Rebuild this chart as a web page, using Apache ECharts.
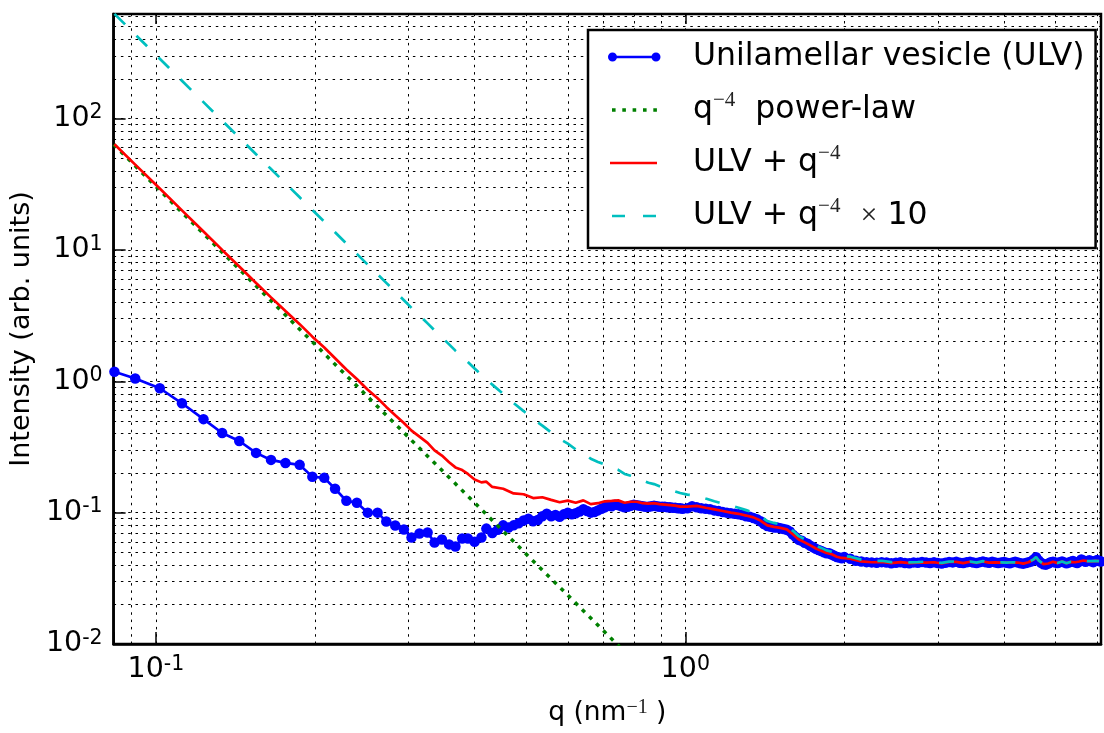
<!DOCTYPE html>
<html><head><meta charset="utf-8">
<script src="https://cdn.jsdelivr.net/npm/echarts@6/dist/echarts.min.js"></script>
<style>html,body{margin:0;padding:0;background:#fff}#c{width:1104px;height:733px}</style>
</head><body><div id="c"></div>
<script>
// ---- data: [q (nm^-1), intensity] ----
const ulvData = [
[0.0835,1.18],[0.0914,1.05],[0.1017,0.885],[0.112,0.68],[0.123,0.515],[0.1334,0.404],[0.1437,0.351],[0.1546,0.285],[0.165,0.252],[0.1757,0.239],
[0.1869,0.231],[0.1975,0.1875],[0.208,0.184],[0.218,0.152],[0.229,0.123],[0.2397,0.119],[0.2513,0.100],[0.2623,0.100],[0.2724,0.0855],[0.2832,0.0798],
[0.2941,0.0743],[0.304,0.0646],[0.3147,0.0693],[0.326,0.0705],[0.336,0.0593],[0.347,0.0624],[0.358,0.0573],[0.368,0.0553],[0.379,0.0635],[0.3885,0.0635],
[0.400,0.060],[0.412,0.0646],[0.421,0.0756],[0.432,0.070],
[0.4425,0.074],[0.453,0.080],[0.4635,0.077],[0.474,0.080],[0.4845,0.083],[0.495,0.087],[0.5055,0.090],[0.516,0.086],[0.5265,0.088],[0.537,0.094],
[0.5475,0.098],[0.558,0.094],[0.5685,0.096],[0.579,0.093],[0.5895,0.097],[0.600,0.100],[0.6105,0.097],[0.621,0.099],[0.6315,0.102],[0.642,0.106],
[0.6525,0.103],[0.663,0.100],[0.6735,0.101],[0.684,0.104],[0.6945,0.107],[0.705,0.110],[0.7155,0.113],[0.726,0.112],[0.7365,0.115],[0.747,0.114],
[0.7575,0.112],[0.768,0.110],[0.7785,0.111],[0.789,0.113],[0.7995,0.115],[0.810,0.114],[0.8205,0.113],[0.831,0.112],[0.8415,0.111],[0.852,0.111],
[0.8625,0.112],[0.873,0.113],[0.8835,0.112],[0.894,0.111],[0.9045,0.111],[0.915,0.111],[0.9255,0.110],[0.936,0.110],[0.9465,0.109],[0.957,0.109],
[0.9675,0.108],[0.978,0.108],[0.9885,0.107],
[1.009,0.108],[1.030,0.112],[1.051,0.110],[1.072,0.108],[1.093,0.107],[1.114,0.106],[1.135,0.104],[1.156,0.103],[1.177,0.101],[1.198,0.100],
[1.219,0.099],[1.240,0.098],[1.261,0.097],[1.282,0.096],[1.303,0.094],[1.324,0.093],[1.345,0.091],[1.366,0.089],[1.387,0.086],[1.408,0.082],
[1.429,0.079],[1.450,0.078],[1.471,0.077],[1.492,0.077],[1.513,0.076],[1.534,0.075],[1.555,0.074],[1.576,0.072],[1.597,0.068],[1.618,0.065],
[1.639,0.062],[1.660,0.061],[1.681,0.059],[1.702,0.058],[1.723,0.056],[1.744,0.0545],[1.765,0.053],[1.786,0.052],[1.807,0.051],[1.828,0.050],
[1.849,0.049],[1.870,0.049],[1.891,0.048],[1.912,0.047],[1.933,0.046],[1.954,0.0455],[1.975,0.045],[1.996,0.046],
[2.05,0.0445],[2.10,0.0430],[2.15,0.0425],[2.20,0.0420],[2.25,0.0418],[2.30,0.0415],[2.35,0.0420],[2.40,0.0417],[2.45,0.0412],[2.50,0.0416],
[2.55,0.0419],[2.60,0.0414],[2.65,0.0412],[2.70,0.0418],[2.75,0.0415],[2.80,0.0421],[2.85,0.0417],[2.90,0.0413],[2.95,0.0419],[3.00,0.0414],
[3.05,0.0410],[3.10,0.0416],[3.15,0.0421],[3.20,0.0418],[3.25,0.0422],[3.30,0.0416],[3.35,0.0413],[3.40,0.0419],[3.45,0.0423],[3.50,0.0417],
[3.55,0.0414],[3.60,0.0420],[3.65,0.0425],[3.70,0.0419],[3.75,0.0416],[3.80,0.0422],[3.85,0.0418],[3.90,0.0413],[3.95,0.0417],[4.00,0.0421],
[4.05,0.0416],[4.10,0.0412],[4.15,0.0418],[4.20,0.0422],[4.25,0.0417],[4.30,0.0411],[4.35,0.0409],[4.40,0.0414],[4.45,0.0419],[4.50,0.0424],
[4.55,0.0440],[4.60,0.0458],[4.65,0.0432],[4.70,0.0415],[4.75,0.0405],[4.80,0.0402],[4.85,0.0410],[4.90,0.0419],[4.95,0.0423],[5.00,0.0417],
[5.05,0.0413],[5.10,0.0420],[5.15,0.0425],[5.20,0.0418],[5.25,0.0412],[5.30,0.0417],[5.35,0.0422],[5.40,0.0428],[5.45,0.0419],[5.50,0.0414],
[5.55,0.0425],[5.60,0.0440],[5.65,0.0432],[5.70,0.0422],[5.75,0.0428],[5.80,0.0435],[5.85,0.0426],[5.90,0.0420],[5.95,0.0429],[6.00,0.0436],
[6.05,0.0428],[6.10,0.0425]
];

const powerLawData = [
[0.0832,63.5],[0.1,30.4],[0.2,1.90],[0.3,0.375],[0.4,0.119],[0.5,0.0486],[0.6,0.0235],[0.7,0.01266],[0.76,0.00911]
];

const fitData = [
[0.0835,63.7],[0.0914,44.61],[0.1017,29.31],[0.112,20.00],[0.123,13.80],[0.1334,10.00],[0.1437,7.48],[0.1546,5.607],[0.165,4.353],[0.1757,3.429],
[0.1869,2.722],[0.1975,2.186],[0.208,1.808],[0.218,1.498],[0.229,1.228],[0.2397,1.040],[0.2513,0.862],[0.2623,0.742],[0.2724,0.638],[0.2832,0.552],
[0.2941,0.481],[0.304,0.421],[0.3147,0.379],[0.326,0.340],[0.336,0.298],[0.347,0.272],[0.358,0.242],[0.368,0.221],[0.379,0.211],[0.3885,0.197],
[0.400,0.179],[0.412,0.170],[0.421,0.172],[0.432,0.157],
[0.453,0.152],[0.474,0.140],[0.495,0.138],[0.516,0.129],[0.537,0.131],[0.558,0.125],[0.579,0.120],[0.600,0.1235],[0.621,0.119],[0.642,0.124],
[0.663,0.116],[0.684,0.118],[0.705,0.122],[0.726,0.123],[0.747,0.124],[0.768,0.119],[0.789,0.121],[0.810,0.121],[0.831,0.118],[0.852,0.117],
[0.873,0.118],[0.894,0.116],[0.915,0.115],[0.936,0.114],[0.957,0.113],[0.978,0.111],[1.009,0.111],[1.051,0.1125],[1.093,0.109],[1.135,0.106],
[1.177,0.103],[1.219,0.100],[1.261,0.098],[1.303,0.095],[1.345,0.092],[1.387,0.087],[1.429,0.080],[1.471,0.078],[1.513,0.0766],[1.555,0.0745],
[1.597,0.0685],[1.639,0.0624],[1.681,0.0594],[1.723,0.0563],[1.765,0.0533],[1.807,0.0513],[1.849,0.0493],[1.891,0.0482],[1.933,0.0462],[1.975,0.0452],
[2.05,0.0447],[2.15,0.0426],[2.25,0.0419],[2.35,0.0421],[2.45,0.0413],[2.55,0.0420],[2.65,0.0413],[2.75,0.0416],[2.85,0.0417],[2.95,0.0419],
[3.05,0.0410],[3.15,0.0421],[3.25,0.0422],[3.35,0.0413],[3.45,0.0423],[3.55,0.0414],[3.65,0.0425],[3.75,0.0416],[3.85,0.0418],[3.95,0.0417],
[4.05,0.0416],[4.15,0.0418],[4.25,0.0417],[4.35,0.0409],[4.45,0.0419],[4.55,0.0440],[4.60,0.0458],[4.65,0.0432],[4.75,0.0405],[4.85,0.0410],
[4.95,0.0423],[5.05,0.0413],[5.15,0.0425],[5.25,0.0412],[5.35,0.0422],[5.45,0.0419],[5.55,0.0425],[5.65,0.0432],[5.75,0.0428],[5.85,0.0426],
[5.95,0.0429],[6.05,0.0428]
];

const fitX10Data = [
[0.0835,626.6],[0.0914,436.7],[0.1017,285.1],[0.112,193.9],[0.123,133.3],[0.1334,96.4],[0.1437,71.64],[0.1546,53.51],[0.165,41.26],[0.1757,32.14],
[0.1869,25.14],[0.1975,20.17],[0.208,16.42],[0.218,13.61],[0.229,11.17],[0.2397,9.33],[0.2513,7.72],[0.2623,6.52],[0.2724,5.61],[0.2832,4.81],
[0.2941,4.14],[0.304,3.62],[0.3147,3.17],[0.326,2.76],[0.336,2.44],[0.347,2.16],[0.358,1.91],[0.368,1.71],[0.379,1.54],[0.3885,1.40],
[0.400,1.25],[0.412,1.12],[0.421,1.04],[0.432,0.943],
[0.453,0.802],[0.474,0.682],[0.495,0.593],[0.516,0.515],[0.537,0.460],[0.558,0.408],[0.579,0.364],[0.600,0.335],[0.621,0.303],[0.642,0.285],
[0.663,0.257],[0.684,0.243],[0.705,0.233],[0.726,0.221],[0.747,0.212],[0.768,0.197],[0.789,0.191],[0.810,0.185],[0.831,0.176],[0.852,0.169],
[0.873,0.165],[0.894,0.159],[0.915,0.154],[0.936,0.150],[0.957,0.145],[0.978,0.141],[1.009,0.137],[1.051,0.135],[1.093,0.128],[1.135,0.122],
[1.177,0.117],[1.219,0.113],[1.261,0.109],[1.303,0.1045],[1.345,0.1003],[1.387,0.0942],[1.429,0.0863],[1.471,0.0835],[1.513,0.0818],[1.555,0.0792],
[1.597,0.0727],[1.639,0.0662],[1.681,0.0628],[1.723,0.0595],[1.765,0.0561],[1.807,0.0539],[1.849,0.0516],[1.891,0.0504],[1.933,0.0482],[1.975,0.0470],
[2.05,0.0462],[2.15,0.0439],[2.25,0.0430],[2.35,0.0430],[2.45,0.0420],[2.55,0.0426],[2.65,0.0418],[2.75,0.0420],[2.85,0.0424],[2.95,0.0423],
[3.05,0.0414],[3.15,0.0424],[3.25,0.0425],[3.35,0.0415],[3.45,0.0425],[3.55,0.0416],[3.65,0.0427],[3.75,0.0418],[3.85,0.0419],[3.95,0.0418],
[4.05,0.0417],[4.15,0.0419],[4.25,0.0418],[4.35,0.0410],[4.45,0.0420],[4.55,0.0441],[4.60,0.0459],[4.65,0.0433],[4.75,0.0406],[4.85,0.0411],
[4.95,0.0424],[5.05,0.0414],[5.15,0.0425],[5.25,0.0412],[5.35,0.0423],[5.45,0.0419],[5.55,0.0426],[5.65,0.0433],[5.75,0.0428],[5.85,0.0427],
[5.95,0.0429],[6.05,0.0428]
];

// axis ticks & grid positions
const xMajorTicks = [0.1, 1];
const xMajorLabels = [['10', '-1'], ['10', '0']];
const yMajorTicks = [0.01, 0.1, 1, 10, 100];
const yMajorLabels = [['10', '-2'], ['10', '-1'], ['10', '0'], ['10', '1'], ['10', '2']];
const xGridLines = [0.09, 0.1, 0.2, 0.3, 0.4, 0.5, 0.6, 0.7, 0.8, 0.9, 1, 2, 3, 4, 5, 6];
const yGridLines = [0.02,0.03,0.04,0.05,0.06,0.07,0.08,0.09,0.1,0.2,0.3,0.4,0.5,0.6,0.7,0.8,0.9,
  1,2,3,4,5,6,7,8,9,10,20,30,40,50,60,70,80,90,100,200,300,400,500,600];

const seriesNames = ['Unilamellar vesicle (ULV)', 'q^-4 power-law', 'ULV + q^-4', 'ULV + q^-4 x10'];
const legendLabels = {
  'Unilamellar vesicle (ULV)': 'Unilamellar vesicle (ULV)',
  'q^-4 power-law': 'q{sup|−4}  power-law',
  'ULV + q^-4': 'ULV + q{sup|−4}',
  'ULV + q^-4 x10': 'ULV + q{sup|−4}  {x|×} 10'
};

const FONT = 'DejaVu Sans';
function fmt(ticks, labels) {
  return function (v) {
    for (let i = 0; i < ticks.length; i++) {
      if (Math.abs(Math.log10(v) - Math.log10(ticks[i])) < 1e-6) {
        return '{m|' + labels[i][0] + '}{s|' + labels[i][1] + '}';
      }
    }
    return '';
  };
}
const tickRich = {
  m: { fontFamily: FONT, fontSize: 28.5, lineHeight: 32, color: '#000' },
  s: { fontFamily: FONT, fontSize: 20.5, lineHeight: 15, verticalAlign: 'top', color: '#000' }
};

const cornerBox = 'M0,0 L0.01,0 L0.01,0.01 Z M80,12 L79.99,12 L79.99,11.99 Z ';
const icons = [
  'path://' + cornerBox + 'M4.5,4.8 L48,4.8 L48,7.2 L4.5,7.2 Z M0,6 A4.5,4.5 0 1 1 9,6 A4.5,4.5 0 1 1 0,6 Z M43.5,6 A4.5,4.5 0 1 1 52.5,6 A4.5,4.5 0 1 1 43.5,6 Z',
  'path://' + cornerBox + 'M4,4.2 L7.6,4.2 L7.6,7.8 L4,7.8 Z M14.3,4.2 L17.9,4.2 L17.9,7.8 L14.3,7.8 Z M24.6,4.2 L28.2,4.2 L28.2,7.8 L24.6,7.8 Z M35,4.2 L38.6,4.2 L38.6,7.8 L35,7.8 Z M45.3,4.2 L48.9,4.2 L48.9,7.8 L45.3,7.8 Z',
  'path://' + cornerBox + 'M2,4.7 L49,4.7 L49,7.3 L2,7.3 Z',
  'path://' + cornerBox + 'M4,4.7 L17,4.7 L17,7.3 L4,7.3 Z M35,4.7 L48,4.7 L48,7.3 L35,7.3 Z'
];
const colors = ['#0000ff', '#008000', '#ff0000', '#00bfbf'];

const chart = echarts.init(document.getElementById('c'), null, { renderer: 'canvas' });
const option = {
  animation: false,
  backgroundColor: '#ffffff',
  grid: { left: 112, top: 14, right: -12, bottom: 84, show: true, borderColor: '#000', borderWidth: 2.5, backgroundColor: 'transparent' },
  xAxis: [{
    type: 'log', logBase: 10, min: 0.0832, max: 6.1, position: 'bottom',
    name: 'q (nm{sup|−1} )', nameLocation: 'middle', nameGap: 54,
    nameTextStyle: { fontFamily: FONT, fontSize: 26.5, lineHeight: 30, color: '#000',
      rich: { sup: { fontFamily: 'Liberation Serif', fontSize: 20, lineHeight: 16, verticalAlign: 'top', color: '#222' } } },
    axisLine: { show: true, lineStyle: { color: '#000', width: 2.5 } },
    axisTick: { show: true, inside: true, length: 12, lineStyle: { color: '#000', width: 1.5 } },
    axisLabel: { margin: 10, fontFamily: FONT, fontSize: 28.5, color: '#000', formatter: fmt(xMajorTicks, xMajorLabels), rich: tickRich },
    splitLine: { show: false }
  }, {
    type: 'log', logBase: 10, min: 0.0832, max: 6.1, position: 'top',
    axisLine: { show: false },
    axisTick: { show: true, inside: true, length: 10, lineStyle: { color: '#000', width: 1.5 } },
    axisLabel: { show: false }, splitLine: { show: false }
  }],
  yAxis: {
    type: 'log', logBase: 10, min: 0.01, max: 625,
    name: 'Intensity (arb. units)', nameLocation: 'middle', nameGap: 73,
    nameTextStyle: { fontFamily: FONT, fontSize: 27, color: '#000' },
    axisLine: { show: true, lineStyle: { color: '#000', width: 2.5 } },
    axisTick: { show: true, inside: true, length: 12, lineStyle: { color: '#000', width: 1.5 } },
    axisLabel: { margin: 11, fontFamily: FONT, fontSize: 28.5, color: '#000', formatter: fmt(yMajorTicks, yMajorLabels), rich: tickRich },
    splitLine: { show: false }
  },
  legend: {
    left: 588, top: 30, orient: 'vertical',
    itemWidth: 80, itemHeight: 12, itemGap: 13,
    padding: [7, 11, 12, 20],
    backgroundColor: '#fff', borderColor: '#000', borderWidth: 2.5, borderRadius: 0,
    selectedMode: false, symbolKeepAspect: true,
    itemStyle: { borderWidth: 0 },
    textStyle: { fontFamily: FONT, fontSize: 31.5, color: '#000', lineHeight: 40,
      rich: {
        sup: { fontFamily: 'Liberation Serif', fontSize: 21, lineHeight: 26, verticalAlign: 'top', color: '#222' },
        x: { fontFamily: 'Liberation Serif', fontSize: 30, lineHeight: 40, color: '#222' }
      } },
    formatter: function (name) { return legendLabels[name]; },
    data: seriesNames.map((n, i) => ({ name: n, icon: icons[i], itemStyle: { color: colors[i], borderWidth: 0 } }))
  },
  series: [
    {
      name: seriesNames[0], type: 'line', data: ulvData, z: 2,
      showSymbol: true, symbol: 'circle', symbolSize: 10.5,
      itemStyle: { color: colors[0], borderWidth: 0 },
      lineStyle: { color: colors[0], width: 2.7 },
      emphasis: { disabled: true }, silent: true
    },
    {
      name: seriesNames[1], type: 'line', data: powerLawData, z: 3,
      showSymbol: false, symbol: 'none',
      itemStyle: { color: colors[1] },
      lineStyle: { color: colors[1], width: 3.5, type: [4, 6] },
      emphasis: { disabled: true }, silent: true,
      markLine: {
        silent: true, z: 1, animation: false, symbol: ['none', 'none'],
        label: { show: false }, emphasis: { disabled: true },
        lineStyle: { color: '#000', width: 1, type: [2.5, 4.8], opacity: 1 },
        data: xGridLines.map(v => ({ xAxis: v })).concat(yGridLines.map(v => ({ yAxis: v })))
      }
    },
    {
      name: seriesNames[2], type: 'line', data: fitData, z: 4,
      showSymbol: false, symbol: 'none',
      itemStyle: { color: colors[2] },
      lineStyle: { color: colors[2], width: 2.7 },
      emphasis: { disabled: true }, silent: true
    },
    {
      name: seriesNames[3], type: 'line', data: fitX10Data, z: 5,
      showSymbol: false, symbol: 'none',
      itemStyle: { color: colors[3] },
      lineStyle: { color: colors[3], width: 2.7, type: [15, 16] },
      emphasis: { disabled: true }, silent: true
    }
  ]
};
chart.setOption(option);
</script>
</body></html>
